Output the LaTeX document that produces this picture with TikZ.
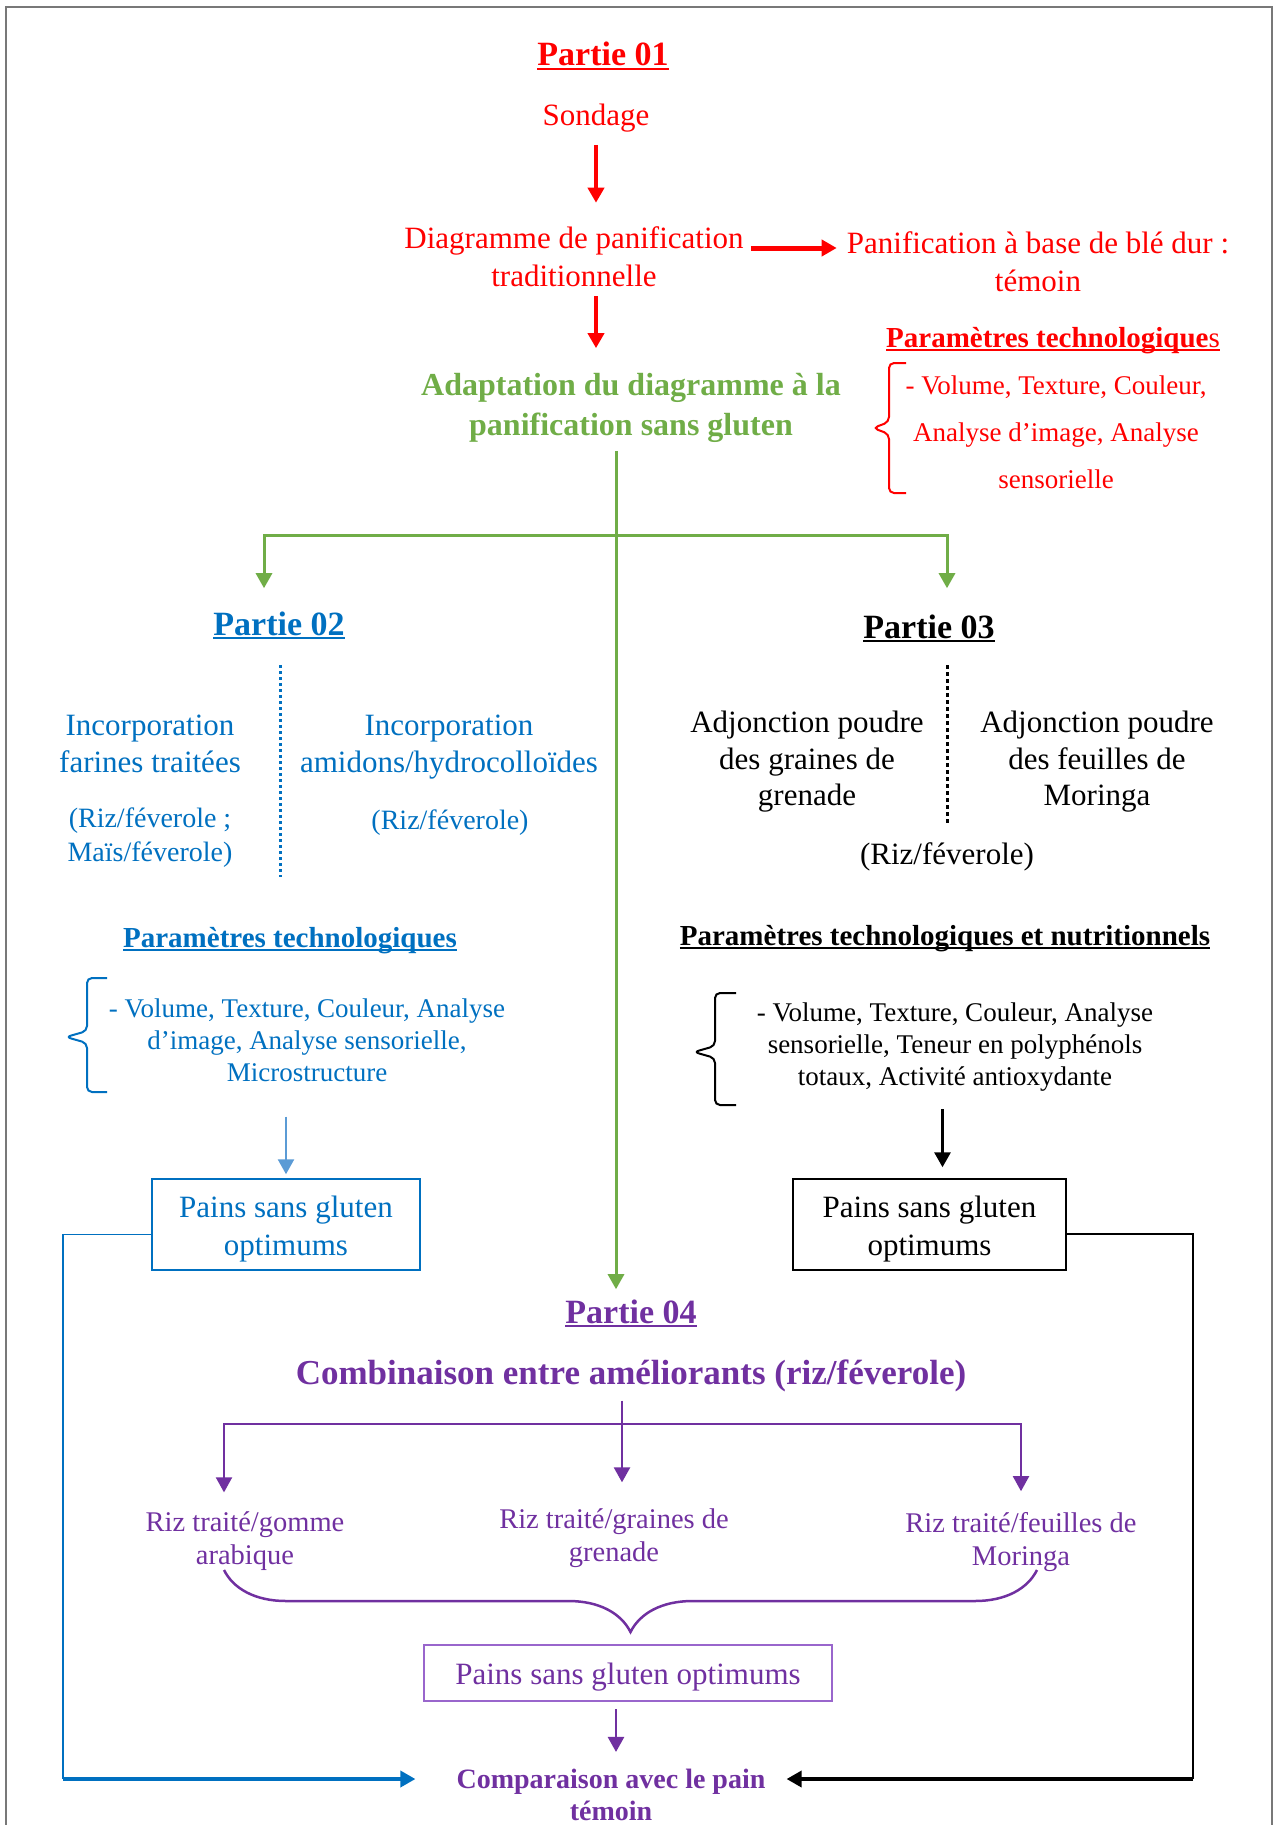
\documentclass[tikz,border=0pt]{standalone}
\usepackage{fontspec}
\setmainfont{Liberation Serif}
\definecolor{rouge}{RGB}{255,0,0}
\definecolor{vert}{RGB}{112,173,71}
\definecolor{bleu}{RGB}{0,112,192}
\definecolor{bleuclair}{RGB}{91,155,213}
\definecolor{violet}{RGB}{112,48,160}
\definecolor{violetclair}{RGB}{153,102,204}
\definecolor{cadre}{RGB}{120,120,120}
\usetikzlibrary{arrows.meta, positioning, calc, decorations.pathreplacing}
\newcommand{\souligne}[1]{\leavevmode\setbox0=\hbox{#1}\rlap{\rule[-4pt]{\wd0}{2pt}}\box0}

\begin{document}
\begin{tikzpicture}[
        x=1pt, y=-1pt,
        titre/.style={inner sep=0pt, text=#1, font=\bfseries\fontsize{34}{40}\selectfont},
        corps/.style={inner sep=0pt, align=center, text=#1, font=\fontsize{31}{38}\selectfont},
        liste/.style={inner sep=0pt, align=center, text=#1, font=\fontsize{27}{32}\selectfont},
        param/.style={inner sep=0pt, text=#1, font=\bfseries\fontsize{29}{34}\selectfont},
        petit/.style={inner sep=0pt, align=center, text=#1, font=\fontsize{28.5}{33}\selectfont},
        boite/.style={draw=#1, line width=1.5pt, inner sep=0pt, align=center, font=\fontsize{31}{39}\selectfont},
        fleche/.style={draw=#1, line width=3pt, -{Triangle[length=15pt, width=16pt]}},
        accolade/.style={draw=#1, line width=2pt, rounded corners=5pt}
    ]
        \useasboundingbox (0,0) rectangle (1274,1825);
        \draw[cadre, line width=1.5pt] (6,1825) -- (6,7) -- (1272,7) -- (1272,1825);

        \node[titre=rouge, anchor=base] (p1) at (603,66) {\souligne{Partie 01}};
        \node[corps=rouge, anchor=base] (sond) at (596,125) {Sondage};
        \node[corps=rouge] (diag) at (574,257) {Diagramme de panification\\traditionnelle};
        \node[corps=rouge] (temoin) at (1038,262) {Panification à base de blé dur :\\témoin};
        \node[corps=vert, font=\bfseries\fontsize{32}{40}\selectfont] (adapt) at (631,408) {Adaptation du diagramme à la\\panification sans gluten};
        \node[param=rouge, anchor=base] (rparam) at (1053,347) {\souligne{Paramètres technologique\textmd{s}}};
        \node[liste=rouge, font=\fontsize{27}{47}\selectfont] (rliste) at (1056,432) {- Volume, Texture, Couleur,\\Analyse d’image, Analyse\\sensorielle};
        \draw[accolade=rouge] (906,363) -- (889,363) -- (889,422) -- (873,428) -- (889,434) -- (889,493) -- (906,493);

        \draw[fleche=rouge, line width=4pt, shorten <=13pt, shorten >=24pt] (sond) -- (sond |- diag.north);
        \draw[fleche=rouge, line width=5pt, shorten <=7pt, shorten >=10pt] ([yshift=9pt]diag.east) -- ([yshift=9pt]diag.east -| temoin.west);
        \draw[fleche=rouge, line width=4pt, shorten <=9pt, shorten >=25pt] (diag.south -| sond) -- (adapt.north -| sond);

        \node[titre=bleu, anchor=base] (p2) at (279,635) {\souligne{Partie 02}};
        \node[corps=bleu, font=\fontsize{31}{37}\selectfont] (inc1) at (150,744) {Incorporation\\farines traitées};
        \node[corps=bleu, font=\fontsize{31}{37}\selectfont] (inc2) at (449,747) {Incorporation\\amidons/hydrocolloïdes};
        \node[petit=bleu, font=\fontsize{28}{34}\selectfont] (riz1) at (150,838) {(Riz/féverole ;\\Maïs/féverole)};
        \node[petit=bleu, font=\fontsize{28}{34}\selectfont, anchor=base] (riz2) at (450,829) {(Riz/féverole)};
        \draw[bleu, line width=3pt, dash pattern=on 3pt off 3pt] (280,665) -- (280,877);
        \node[param=bleu, anchor=base] (bparam) at (290,947) {\souligne{Paramètres technologiques}};
        \draw[accolade=bleu] (107,978) -- (87,978) -- (87,1031) -- (66,1037) -- (87,1043) -- (87,1092) -- (107,1092);
        \node[liste=bleu] (bliste) at (307,1040) {- Volume, Texture, Couleur, Analyse\\d’image, Analyse sensorielle,\\Microstructure};
        \node[boite=bleu, text=bleu, minimum width=268pt, minimum height=91pt] (bbox) at (286,1224.5) {\raisebox{-4pt}[\height][\depth]{\begin{tabular}{@{}c@{}}Pains sans gluten\\[-1pt]optimums\end{tabular}}};
        \draw[fleche=bleuclair, line width=2.5pt, shorten <=35pt, shorten >=4pt] (bbox.north |- bliste.south) -- (bbox.north);

        \node[titre=black, anchor=base] (p3) at (929,638) {\souligne{Partie 03}};
        \node[corps=black, font=\fontsize{31}{36.5}\selectfont] (adj1) at (807,762) {Adjonction poudre\\des graines de\\grenade};
        \node[corps=black, font=\fontsize{31}{36.5}\selectfont] (adj2) at (1097,762) {Adjonction poudre\\des feuilles de\\Moringa};
        \draw[black, line width=3pt, dash pattern=on 4pt off 3pt] (947,665) -- (947,825);
        \node[corps=black, anchor=base] (riz3) at (947,864) {(Riz/féverole)};
        \node[param=black, anchor=base] (kparam) at (945,945) {\souligne{Paramètres technologiques et nutritionnels}};
        \draw[accolade=black] (736,993) -- (715,993) -- (715,1046) -- (694,1052) -- (715,1058) -- (715,1105) -- (736,1105);
        \node[liste=black] (kliste) at (955,1047) {- Volume, Texture, Couleur, Analyse\\sensorielle, Teneur en polyphénols\\totaux, Activité antioxydante};
        \node[boite=black, text=black, minimum width=273pt, minimum height=91pt] (kbox) at (929.5,1224.5) {\raisebox{-4pt}[\height][\depth]{\begin{tabular}{@{}c@{}}Pains sans gluten\\[-1pt]optimums\end{tabular}}};
        \draw[fleche=black, shorten <=18pt, shorten >=11pt] ([xshift=13pt]kbox.north |- kliste.south) -- ([xshift=13pt]kbox.north);

        \node[titre=violet, anchor=base] (p4) at (631,1323) {\souligne{Partie 04}};
        \node[titre=violet, font=\bfseries\fontsize{35}{40}\selectfont, anchor=base] (comb) at (631,1384) {Combinaison entre améliorants (riz/féverole)};

        \draw[fleche=vert, shorten <=8pt, shorten >=10pt] ([xshift=-15pt]adapt.south) -- ([xshift=-15pt]adapt.south |- p4.north);
        \coordinate (fourche) at (616,535);
        \draw[fleche=vert] (fourche) -| ([xshift=-15pt, yshift=23pt]p2.north);
        \draw[fleche=vert] (fourche) -| ([xshift=18pt, yshift=26pt]p3.north);

        \node[petit=violet] (rz1) at (245,1541) {Riz traité/gomme\\arabique};
        \node[petit=violet] (rz2) at (614,1538) {Riz traité/graines de\\grenade};
        \node[petit=violet] (rz3) at (1021,1542) {Riz traité/feuilles de\\Moringa};
        \draw[fleche=violet, line width=2.5pt, shorten <=9pt, shorten >=26pt] ([xshift=-9pt]comb.south) -- ([xshift=-9pt]comb.south |- rz2.north);
        \coordinate (pjonc) at (622,1424);
        \draw[fleche=violet, line width=2pt, shorten >=19pt] (pjonc) -| ([xshift=-21pt]rz1.north);
        \draw[fleche=violet, line width=2pt, shorten >=21pt] (pjonc) -| (rz3.north);
        \draw[accolade=violet, rounded corners=0pt, line width=2.5pt, decorate, decoration={brace, amplitude=62pt}] (1037,1570) -- (224,1570);
        \node[boite=violetclair, text=violet, line width=2.5pt, minimum width=408pt, minimum height=56pt] (pbox) at (628,1673) {\raisebox{-4pt}[\height][\depth]{Pains sans gluten optimums}};
        \node[titre=violet, align=center, font=\bfseries\fontsize{28}{32}\selectfont] (comp) at (611,1795) {Comparaison avec le pain\\témoin};
        \draw[fleche=violet, line width=2.5pt, shorten <=7pt, shorten >=17pt] ([xshift=-12pt]pbox.south) -- ([xshift=-12pt]pbox.south |- comp.north);

        \coordinate (coinB) at (63,1779);
        \coordinate (coinN) at (1193,1779);
        \draw[bleu, line width=1.5pt] ([yshift=-10pt]bbox.west) -| (coinB);
        \draw[fleche=bleu, line width=3.5pt, shorten >=41pt] (coinB) -- (coinB -| comp.west);
        \draw[black, line width=2pt] ([yshift=-9pt]kbox.east) -| (coinN);
        \draw[fleche=black, line width=3.5pt, shorten >=21pt] (coinN) -- (coinN -| comp.east);
    \end{tikzpicture}
\end{document}
